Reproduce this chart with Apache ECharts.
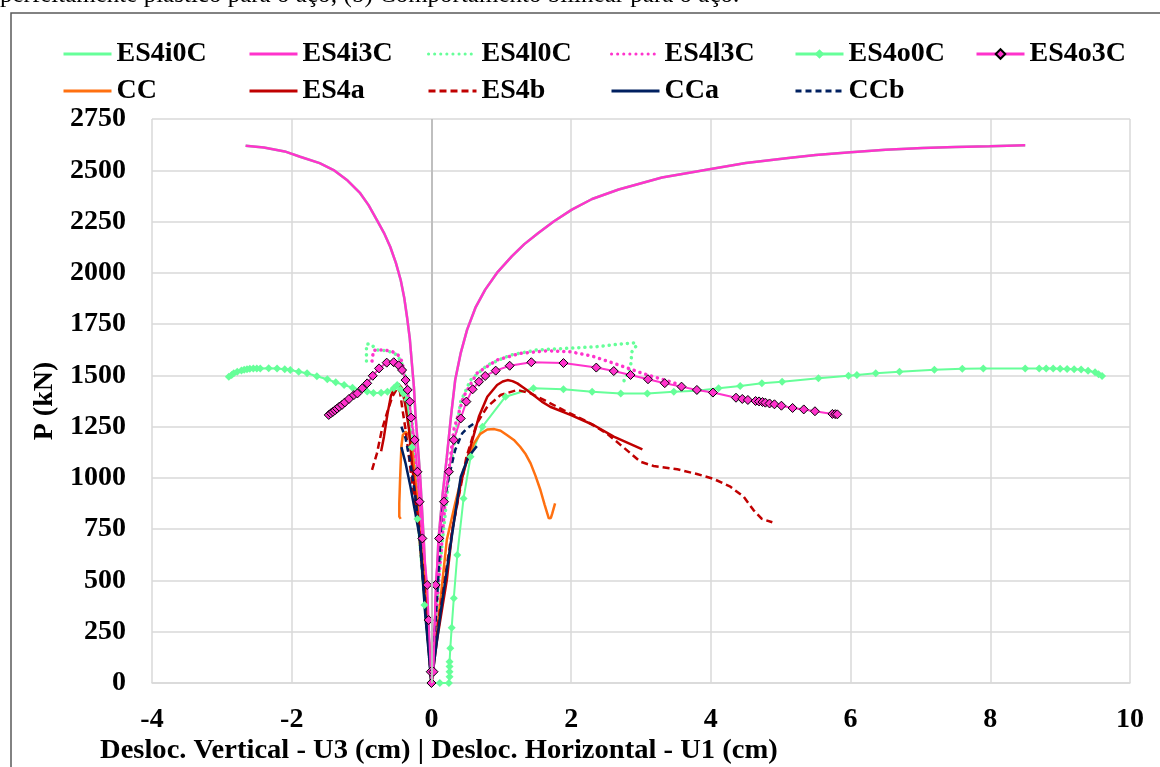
<!DOCTYPE html>
<html>
<head>
<meta charset="utf-8">
<script src="https://cdn.jsdelivr.net/npm/echarts@6/dist/echarts.min.js"></script>
<style>
  html, body { margin: 0; padding: 0; background: #fff; }
  #chart { width: 1160px; height: 767px; }
</style>
</head>
<body>
<div id="chart"></div>
<script>
// [deslocamento (cm), P (kN)] - ramo vertical (negativo) e ramo horizontal (positivo)
const es4i3c = [[-2.66,2620],[-2.4,2611],[-2.1,2592],[-1.88,2566],[-1.6,2535],[-1.40,2501],[-1.2,2450],[-1.02,2388],[-0.9,2330],[-0.78,2257],[-0.68,2195],[-0.59,2127],[-0.51,2050],[-0.44,1965],[-0.39,1880],[-0.35,1786],[-0.31,1680],[-0.28,1559],[-0.25,1440],[-0.23,1316],[-0.16,1000],[-0.11,697],[-0.06,350],[0,0],
  [0.05,300],[0.10,697],[0.16,920],[0.22,1100],[0.28,1300],[0.34,1477],[0.42,1610],[0.51,1722],[0.63,1830],[0.77,1918],[0.95,2005],[1.15,2080],[1.33,2140],[1.53,2194],[1.75,2250],[2.01,2308],[2.3,2360],[2.68,2406],[3.3,2465],[4.0,2506],[4.5,2535],[5.11,2560],[5.5,2575],[6.0,2588],[6.5,2600],[7.03,2609],[7.5,2614],[7.99,2617],[8.5,2622]]
const es4i0c = es4i3c.map(p => p.slice()) // coincide com ES4i3C (fica por baixo)
const es4l0c = [[-0.93,1570],[-0.93,1610],[-0.93,1652],[-0.87,1653],[-0.78,1624],[-0.63,1620],[-0.49,1600],[-0.40,1542],[-0.33,1396],[-0.28,1290],[-0.21,1000],[-0.12,600],[0,0],
  [0.1,500],[0.25,1000],[0.42,1372],[0.56,1477],[0.80,1550],[1.13,1599],[1.51,1624],[1.94,1632],[2.37,1640],[2.71,1653],[2.92,1659],[2.93,1643],[2.87,1615],[2.85,1542],[2.75,1469]]
const es4l3c = [[-0.85,1570],[-0.83,1622],[-0.68,1624],[-0.56,1616],[-0.47,1597],[-0.42,1567],[-0.36,1450],[-0.30,1300],[-0.22,1000],[-0.13,600],[0,0],
  [0.1,480],[0.2,900],[0.32,1234],[0.46,1396],[0.65,1510],[0.94,1575],[1.27,1607],[1.66,1620],[1.99,1615],[2.30,1594],[2.61,1559],[3.02,1510],[3.42,1469],[3.5,1460]]
const es4o0c = [[-2.90,1493],[-2.86,1502],[-2.83,1510],[-2.78,1518],[-2.72,1524],[-2.68,1527],[-2.64,1530],[-2.60,1532],[-2.55,1533],[-2.50,1534],[-2.45,1534],[-2.33,1535],[-2.21,1534],[-2.10,1530],[-2.02,1526],[-1.90,1518],[-1.78,1510],[-1.64,1496],[-1.49,1481],[-1.37,1466],[-1.25,1453],[-1.13,1440],[-1.02,1429],[-0.92,1421],[-0.83,1414],[-0.72,1415],[-0.63,1420],[-0.54,1437],[-0.49,1453],[-0.44,1430],[-0.40,1412],[-0.35,1380],[-0.28,1150],[-0.2,800],[-0.1,380],[0,0],
  [0.12,0],[0.25,0],[0.26,31],[0.26,55],[0.26,80],[0.26,104],[0.27,169],[0.29,270],[0.32,413],[0.37,624],[0.46,900],[0.56,1103],[0.73,1250],[1.06,1396],[1.46,1437],[1.89,1432],[2.30,1420],[2.71,1412],[3.09,1412],[3.47,1420],[3.80,1425],[4.11,1437],[4.42,1448],[4.73,1461],[5.02,1469],[5.54,1486],[5.97,1498],[6.09,1502],[6.36,1510],[6.7,1518],[7.2,1527],[7.6,1532],[7.9,1534],[8.5,1534],[8.7,1534],[8.8,1533],[8.9,1533],[9.0,1532],[9.1,1531],[9.2,1530],[9.3,1528],[9.4,1522],[9.5,1515],[9.55,1505],[9.6,1497]]
const es4o3c = [[-1.47,1307],[-1.44,1315],[-1.41,1322],[-1.38,1330],[-1.35,1338],[-1.32,1347],[-1.28,1356],[-1.24,1368],[-1.18,1385],[-1.11,1404],[-1.06,1412],[-0.99,1437],[-0.92,1461],[-0.84,1498],[-0.75,1534],[-0.64,1562],[-0.54,1564],[-0.47,1549],[-0.42,1526],[-0.37,1477],[-0.34,1429],[-0.31,1372],[-0.29,1294],[-0.24,1185],[-0.20,1030],[-0.17,884],[-0.13,705],[-0.06,478],[-0.04,307],[-0.01,55],[0,0],
  [0.03,55],[0.06,478],[0.11,705],[0.18,884],[0.25,1030],[0.32,1185],[0.42,1290],[0.50,1372],[0.59,1432],[0.68,1469],[0.77,1497],[0.92,1523],[1.12,1547],[1.43,1564],[1.89,1560],[2.36,1538],[2.61,1521],[2.85,1502],[3.10,1481],[3.34,1462],[3.58,1445],[3.80,1429],[4.03,1416],[4.36,1391],[4.45,1385],[4.53,1380],[4.64,1375],[4.69,1373],[4.74,1370],[4.78,1367],[4.84,1363],[4.91,1359],[5.01,1352],[5.17,1341],[5.33,1334],[5.49,1325],[5.74,1312],[5.78,1311],[5.81,1310]]
const cc = [[-0.44,800],[-0.46,811],[-0.46,876],[-0.45,980],[-0.44,1071],[-0.43,1152],[-0.41,1209],[-0.37,1225],[-0.32,1209],[-0.28,1152],[-0.25,1055],[-0.21,925],[-0.18,795],[-0.13,697],[-0.07,380],[0,0],
  [0.08,250],[0.22,697],[0.34,876],[0.46,1039],[0.61,1169],[0.70,1215],[0.80,1236],[0.90,1238],[0.99,1230],[1.08,1209],[1.18,1185],[1.27,1152],[1.35,1115],[1.42,1071],[1.49,1010],[1.56,941],[1.62,870],[1.68,803],[1.71,805],[1.73,827],[1.77,876]]
const es4a = [[-0.72,1130],[-0.68,1200],[-0.63,1310],[-0.58,1400],[-0.52,1445],[-0.47,1458],[-0.42,1437],[-0.37,1347],[-0.32,1234],[-0.28,1071],[-0.20,827],[-0.10,420],[0,0],
  [0.08,210],[0.22,502],[0.30,746],[0.42,974],[0.56,1152],[0.68,1299],[0.80,1396],[0.94,1453],[1.02,1470],[1.09,1477],[1.16,1472],[1.23,1461],[1.34,1435],[1.46,1404],[1.58,1372],[1.70,1347],[1.99,1307],[2.32,1258],[2.61,1201],[3.02,1139]]
const es4b = [[-0.85,1039],[-0.78,1120],[-0.71,1234],[-0.63,1323],[-0.56,1396],[-0.49,1437],[-0.45,1420],[-0.42,1347],[-0.37,1234],[-0.31,1071],[-0.25,908],[-0.16,746],[-0.08,380],[0,0],
  [0.1,300],[0.3,750],[0.5,1100],[0.65,1266],[0.80,1347],[0.99,1404],[1.23,1429],[1.42,1412],[1.61,1380],[1.89,1331],[2.23,1274],[2.51,1217],[2.71,1160],[2.85,1120],[2.99,1079],[3.18,1058],[3.52,1042],[3.80,1019],[4.04,995],[4.28,957],[4.47,908],[4.61,843],[4.73,800],[4.88,784]]
const cca = [[-0.43,1150],[-0.37,1071],[-0.30,957],[-0.23,827],[-0.16,697],[-0.09,340],[0,0],
  [0.13,340],[0.27,665],[0.42,1006],[0.53,1103],[0.65,1155]]
const ccb = [[-0.43,1250],[-0.37,1193],[-0.30,1071],[-0.23,908],[-0.18,746],[-0.09,380],[0,0],
  [0.06,300],[0.15,827],[0.25,1006],[0.34,1136],[0.44,1217],[0.51,1242],[0.61,1266]]

const xTicks = [-4, -2, 0, 2, 4, 6, 8, 10]
const yTicks = [0, 250, 500, 750, 1000, 1250, 1500, 1750, 2000, 2250, 2500, 2750]

const serif = 'Liberation Serif'
const green = '#66ff99'
const pink = '#ff33cc'
const darkRed = '#c00000'
const orange = '#ff7010'
const navy = '#002060'

function line(name, data, color, extra) {
  return Object.assign({
    name: name,
    type: 'line',
    data: data,
    showSymbol: false,
    symbol: 'none',
    smooth: false,
    animation: false,
    lineStyle: { color: color, width: 2.5 },
    itemStyle: { color: color }
  }, extra || {})
}

const dots = [0.1, 6]

const series = [
  line('ES4i0C', es4i0c, green),
  line('ES4l0C', es4l0c, green, { lineStyle: { color: green, width: 3.5, type: dots, cap: 'round' } }),
  line('ES4l3C', es4l3c, pink, { lineStyle: { color: pink, width: 3.5, type: dots, cap: 'round' } }),
  line('ES4o0C', es4o0c, green, {
    symbol: 'diamond', showSymbol: true, symbolSize: 8,
    lineStyle: { color: green, width: 2 },
    itemStyle: { color: green, borderWidth: 0 }
  }),
  line('ES4i3C', es4i3c, pink),
  line('CC', cc, orange),
  line('ES4a', es4a, darkRed),
  line('ES4b', es4b, darkRed, { lineStyle: { color: darkRed, width: 2.5, type: [7, 4] } }),
  line('CCa', cca, navy),
  line('CCb', ccb, navy, { lineStyle: { color: navy, width: 2.5, type: [6, 4] } }),
  line('ES4o3C', es4o3c, pink, {
    symbol: 'diamond', showSymbol: true, symbolSize: 9,
    lineStyle: { color: pink, width: 2 },
    itemStyle: { color: pink, borderColor: '#000', borderWidth: 1 }
  })
]
// linha vertical em x = 0
series[0].markLine = {
  silent: true, symbol: 'none', label: { show: false },
  lineStyle: { color: '#bfbfbf', width: 2, type: 'solid' },
  data: [{ xAxis: 0 }]
}

const withMarker = ['ES4o0C', 'ES4o3C']
const legendCols = [
  [57, ['ES4i0C', 'CC']],
  [243, ['ES4i3C', 'ES4a']],
  [422, ['ES4l0C', 'ES4b']],
  [605, ['ES4l3C', 'CCa']],
  [789, ['ES4o0C', 'CCb']],
  [970, ['ES4o3C']]
]

const chart = echarts.init(document.getElementById('chart'))
chart.setOption({
  backgroundColor: '#fff',
  animation: false,
  graphic: [
    { type: 'text', left: 0, top: -17, style: { text: 'perfeitamente plástico para o aço; (b) Comportamento bilinear para o aço.', font: '25px ' + serif, fill: '#000' } },
    { type: 'rect', shape: { x: 11, y: 13, width: 1160, height: 770 }, style: { fill: 'none', stroke: '#595959', lineWidth: 1.5 } },
    { type: 'text', left: 100, top: 737, scaleX: 1.02, style: { text: 'Desloc. Vertical - U3 (cm) | Desloc. Horizontal - U1 (cm)', font: 'bold 28px ' + serif, fill: '#000' } }
  ],
  legend: legendCols.map(([left, names]) => ({
    left: left, top: 35, orient: 'vertical',
    data: names.map(n => withMarker.includes(n) ? { name: n } : { name: n, itemStyle: { opacity: 0 } }),
    itemWidth: 48, itemHeight: 12, itemGap: 9, selectedMode: false,
    lineStyle: { width: 3 },
    textStyle: { fontFamily: serif, fontWeight: 'bold', fontSize: 28, color: '#000', lineHeight: 28, padding: [0, 0, 0, 0] }
  })),
  grid: { left: 152, right: 30, top: 119, bottom: 84 },
  xAxis: {
    type: 'value', min: -4, max: 10, interval: 2,
    axisLine: { show: true, onZero: false, lineStyle: { color: '#d9d9d9', width: 1.5 } },
    axisTick: { show: false },
    splitLine: { show: true, lineStyle: { color: '#d9d9d9', width: 1.5 } },
    axisLabel: { margin: 23, fontFamily: serif, fontWeight: 'bold', fontSize: 28, color: '#000',
      formatter: v => xTicks.includes(v) ? String(v) : '' }
  },
  yAxis: {
    type: 'value', min: 0, max: 2750, interval: 250,
    name: 'P (kN)', nameLocation: 'middle', nameGap: 90, nameRotate: 90,
    nameTextStyle: { fontFamily: serif, fontWeight: 'bold', fontSize: 28, color: '#000' },
    axisLine: { show: false },
    axisTick: { show: false },
    splitLine: { show: true, lineStyle: { color: '#d9d9d9', width: 1.5 } },
    axisLabel: { margin: 26, fontFamily: serif, fontWeight: 'bold', fontSize: 28, color: '#000',
      formatter: v => yTicks.includes(v) ? String(v) : '' }
  },
  series: series
})
</script>
</body>
</html>
